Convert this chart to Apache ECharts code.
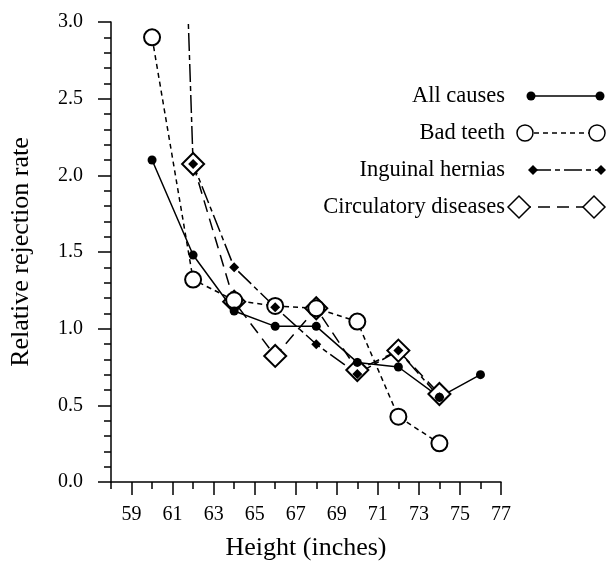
<!DOCTYPE html>
<html>
<head>
<meta charset="utf-8">
<script src="https://cdn.jsdelivr.net/npm/echarts@6/dist/echarts.min.js"></script>
<style>
  html, body { margin: 0; padding: 0; background: #fff; }
  #chart { width: 609px; height: 562px; }
</style>
</head>
<body>
<div id="chart"></div>
<script>
// heights (inches) and relative rejection rates
const heights = [60, 62, 64, 66, 68, 70, 72, 74, 76]
const allCauses = [2.10, 1.48, 1.115, 1.015, 1.015, 0.78, 0.75, 0.553, 0.70]
const badTeeth = [2.90, 1.32, 1.185, 1.148, 1.133, 1.046, 0.426, 0.252]
const herniaHeights = [60, 62, 64, 66, 68, 70, 72, 74]
const hernias = [10.0, 2.074, 1.40, 1.14, 0.898, 0.705, 0.857, 0.553]
const circHeights = [62, 64, 66, 68, 70, 72, 74]
const circulatory = [2.074, 1.176, 0.822, 1.133, 0.73, 0.857, 0.574]

const xMajor = [59, 61, 63, 65, 67, 69, 71, 73, 75, 77]
const xMinor = [58, 60, 62, 64, 66, 68, 70, 72, 74, 76]

const FONT = 'Liberation Serif'

function pairs(xs, ys) {
  return ys.map((v, i) => [xs[i], v])
}

// legend drawn as graphics: text right-aligned, line with a symbol at each end
const legendRows = [
  { name: 'All causes', y: 96, x1: 531, x2: 600, dash: null, sym: 'dot' },
  { name: 'Bad teeth', y: 133, x1: 525, x2: 597, dash: [5, 4], sym: 'ring' },
  { name: 'Inguinal hernias', y: 170, x1: 533, x2: 601, dash: [18, 4, 5, 4], sym: 'smallDiamond' },
  { name: 'Circulatory diseases', y: 207, x1: 519, x2: 594, dash: [12, 7], sym: 'bigDiamond' }
]

function legendSymbol(type, cx, cy) {
  if (type === 'dot') {
    return { type: 'circle', shape: { cx, cy, r: 4.5 }, style: { fill: '#000' }, z: 12 }
  }
  if (type === 'ring') {
    return { type: 'circle', shape: { cx, cy, r: 8 }, style: { fill: '#fff', stroke: '#000', lineWidth: 1.5 }, z: 12 }
  }
  const h = type === 'smallDiamond' ? 5 : 11
  return {
    type: 'polygon',
    shape: { points: [[cx - h, cy], [cx, cy - h], [cx + h, cy], [cx, cy + h]] },
    style: type === 'smallDiamond' ? { fill: '#000' } : { fill: '#fff', stroke: '#000', lineWidth: 1.5 },
    z: 12
  }
}

const graphics = []
legendRows.forEach(r => {
  graphics.push({
    type: 'text',
    x: 505, y: r.y,
    style: { text: r.name, font: '22.5px "' + FONT + '"', fill: '#000', align: 'right', verticalAlign: 'middle' },
    z: 12
  })
  graphics.push({
    type: 'line',
    shape: { x1: r.x1, y1: r.y, x2: r.x2, y2: r.y },
    style: { stroke: '#000', lineWidth: 1.5, lineDash: r.dash || null },
    z: 11
  })
  graphics.push(legendSymbol(r.sym, r.x1, r.y))
  graphics.push(legendSymbol(r.sym, r.x2, r.y))
})

const option = {
  animation: false,
  backgroundColor: '#fff',
  textStyle: { fontFamily: FONT, color: '#000' },
  grid: { left: 111, top: 22, right: 108, bottom: 80, containLabel: false, outerBoundsMode: 'none' },
  xAxis: [
    {
      type: 'value',
      min: 58,
      max: 77,
      name: 'Height (inches)',
      nameLocation: 'middle',
      nameGap: 53,
      nameTextStyle: { fontSize: 26, fontFamily: FONT, color: '#000' },
      splitLine: { show: false },
      axisLine: { lineStyle: { color: '#000', width: 1.5 } },
      axisTick: { customValues: xMajor, length: 13, lineStyle: { color: '#000', width: 1.5 } },
      axisLabel: { customValues: xMajor, fontSize: 20, fontFamily: FONT, color: '#000', margin: 23 }
    },
    {
      type: 'value',
      min: 58,
      max: 77,
      position: 'bottom',
      splitLine: { show: false },
      axisLine: { show: false },
      axisTick: { customValues: xMinor, length: 7, lineStyle: { color: '#000', width: 1.5 } },
      axisLabel: { show: false }
    }
  ],
  yAxis: {
    type: 'value',
    min: 0,
    max: 3,
    interval: 0.5,
    name: 'Relative rejection rate',
    nameLocation: 'middle',
    nameGap: 77,
    nameTextStyle: { fontSize: 26, fontFamily: FONT, color: '#000' },
    splitLine: { show: false },
    axisLine: { show: true, lineStyle: { color: '#000', width: 1.5 } },
    axisTick: { show: true, length: 13, lineStyle: { color: '#000', width: 1.5 } },
    minorTick: { show: true, splitNumber: 5, length: 7, lineStyle: { color: '#000', width: 1.5 } },
    axisLabel: {
      fontSize: 20, fontFamily: FONT, color: '#000', margin: 28,
      formatter: v => v.toFixed(1)
    }
  },
  graphic: graphics,
  series: [
    {
      name: 'Circulatory diseases',
      type: 'line',
      data: pairs(circHeights, circulatory),
      symbol: 'emptyDiamond',
      symbolSize: 22,
      color: '#000',
      itemStyle: { color: '#000', borderWidth: 1.5 },
      lineStyle: { color: '#000', width: 1.5, type: [12, 7] }
    },
    {
      name: 'Bad teeth',
      type: 'line',
      data: pairs(heights, badTeeth),
      symbol: 'emptyCircle',
      symbolSize: 16,
      color: '#000',
      itemStyle: { color: '#000', borderWidth: 1.5 },
      lineStyle: { color: '#000', width: 1.5, type: [5, 4] }
    },
    {
      name: 'Inguinal hernias',
      type: 'line',
      data: pairs(herniaHeights, hernias),
      symbol: 'diamond',
      symbolSize: 10,
      color: '#000',
      itemStyle: { color: '#000' },
      lineStyle: { color: '#000', width: 1.5, type: [18, 4, 5, 4] }
    },
    {
      name: 'All causes',
      type: 'line',
      data: pairs(heights, allCauses),
      symbol: 'circle',
      symbolSize: 9,
      color: '#000',
      itemStyle: { color: '#000' },
      lineStyle: { color: '#000', width: 1.5 }
    }
  ]
}

const chart = echarts.init(document.getElementById('chart'))
chart.setOption(option)
</script>
</body>
</html>
